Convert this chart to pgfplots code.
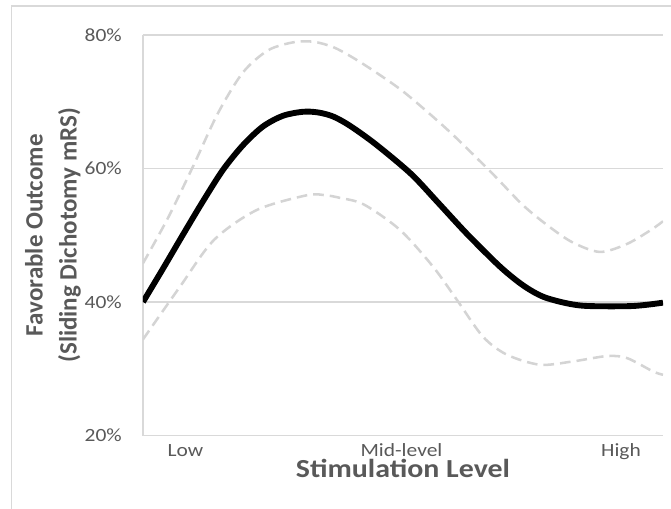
\documentclass[border=0pt]{standalone}
\usepackage{pgfplots}
\pgfplotsset{compat=1.18}
\usepackage{fontspec}
\setmainfont{Carlito}[FakeStretch=1.15]
\newfontfamily\ylabfont{Carlito}
\definecolor{txtgray}{HTML}{595959}
\definecolor{gridgray}{HTML}{D9D9D9}
\definecolor{bandgray}{HTML}{D4D4D4}

\begin{document}
\begin{tikzpicture}
\useasboundingbox (0,0) rectangle (503.25pt,381pt);
% chart frame
\draw[gridgray, line width=0.9pt] (8.625pt,-5pt) -- (8.625pt,376.5pt) -- (510pt,376.5pt);
\begin{axis}[
  at={(107.25pt,54.375pt)}, anchor=south west,
  scale only axis, width=390pt, height=300.375pt,
  xmin=0, xmax=520, ymin=20, ymax=80,
  axis x line*=bottom, axis y line*=left,
  axis line style={draw=gridgray, line width=1pt, -},
  major tick length=0pt,
  ytick={20,40,60,80}, yticklabels={20\%,40\%,60\%,80\%},
  ymajorgrids, grid style={gridgray, line width=1pt},
  yticklabel style={anchor=east, inner sep=0pt, xshift=-15.75pt,
    font=\fontsize{14}{16}\selectfont, text=txtgray},
  xtick={42.5,258.5,478}, xticklabels={Low,Mid-level,High},
  xticklabel style={anchor=base, inner sep=0pt, yshift=-15.4pt,
    font=\fontsize{14}{16}\selectfont, text=txtgray},
  xlabel={Stimulation Level},
  xlabel style={at={(axis description cs:0.5,-0.105)}, anchor=base, inner sep=0pt,
    font=\fontsize{19.5}{22}\selectfont\bfseries, text=txtgray},
  ylabel={Favorable Outcome\\(Sliding Dichotomy mRS)},
  ylabel style={at={(axis description cs:-0.1731,0.5)}, anchor=center, align=center,
    inner sep=0pt, font=\ylabfont\bfseries\fontsize{18.75}{25.5}\selectfont, text=txtgray},
]
% upper confidence bound
\addplot[bandgray, line width=1.9pt, dash pattern=on 8pt off 4.5pt, smooth] coordinates {
  (0,45.8) (25,52.6) (50,60.3) (75,68.3) (100,74.4) (125,77.7) (150,78.9)
  (170,79.0) (190,78.2) (210,76.6) (235,74.2) (263,71.2) (306,65.6) (349,59.3)
  (380,54.5) (407,51.2) (430,48.9) (457,47.5) (484,48.7) (508,50.8) (520,52.1)
};
% lower confidence bound
\addplot[bandgray, line width=1.9pt, dash pattern=on 8pt off 4.5pt, smooth] coordinates {
  (0,34.4) (37,42.3) (71,49.3) (114,53.8) (164,56.0) (182,56.0) (197,55.6)
  (221,54.6) (257,50.8) (290,45.3) (314,40.3) (340,34.8) (364,32.1)
  (397,30.6) (430,31.1) (464,31.9) (484,31.6) (510,29.6) (520,29.1)
};
% fitted response
\addplot[black, line width=4.4pt, line join=round, smooth] coordinates {
  (0,40.0) (20,45.0) (40,50.1) (60,55.1) (80,59.8) (100,63.5) (120,66.3)
  (140,67.9) (160,68.5) (175,68.4) (190,67.8) (207,66.4) (233,63.6)
  (268,59.2) (295,54.9) (324,50.2) (357,45.3) (380,42.5) (400,40.8)
  (424,39.8) (445,39.4) (490,39.4) (520,39.9)
};
\end{axis}
\end{tikzpicture}
\end{document}
